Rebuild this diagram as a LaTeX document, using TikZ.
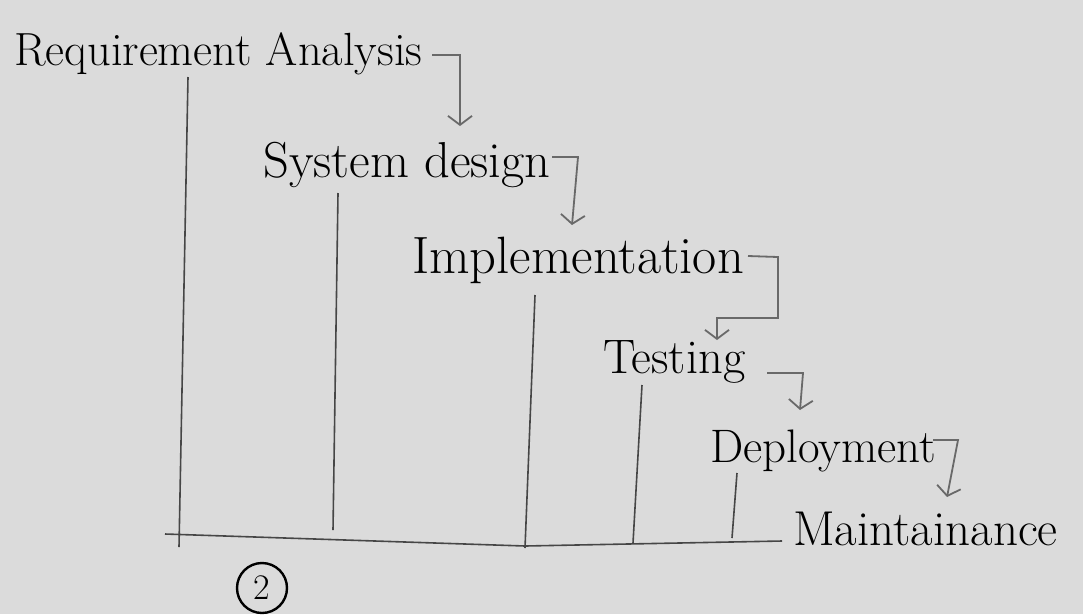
\documentclass[tikz,border=0pt]{standalone}
\usetikzlibrary{arrows.meta}
\definecolor{paper}{RGB}{219,219,219}
\definecolor{pencil}{RGB}{70,70,70}
\definecolor{pencillight}{RGB}{105,105,105}
\begin{document}
\begin{tikzpicture}[x=1pt,y=-1pt,
  phase/.style={anchor=base west, inner sep=0pt, text=black, font=\fontsize{#1}{#1}\selectfont},
  phase/.default=48,
  conn/.style={draw=pencillight, line width=1.8pt, -{Straight Barb[length=9pt,width=24pt,line width=1.8pt]}},
  stem/.style={draw=pencil, line width=1.6pt},
  axis/.style={draw=pencil, line width=1.6pt}]
\path[fill=paper] (0,0) rectangle (1083,614);
\useasboundingbox (0,0) rectangle (1083,614);

% phases
\node[phase=46.5] (req) at (14,65) {Requirement Analysis};
\node[phase=50.5] (sys) at (263,177) {System design};
\node[phase=52.5] (imp) at (412,273) {Implementation};
\node[phase=48.5] (tst) at (603,373) {Testing};
\node[phase=47] (dep) at (710,462) {Deployment};
\node[phase=49] (mnt) at (793,545) {Maintainance};

% connector points
\coordinate (a1s) at (432,55);
\coordinate (a1e) at (460,126);
\coordinate (a2s) at (552,157);
\coordinate (a2e) at (572,225);
\coordinate (a3s) at (748,256);
\coordinate (a3e) at (717,340);
\coordinate (a4s) at (767,373);
\coordinate (a4e) at (800,410);
\coordinate (a5s) at (933,440);
\coordinate (a5e) at (947,497);

\draw[conn] (a1s) -- (460,55) -- (a1e);
\draw[conn] (a2s) -- (578,157) -- (a2e);
\draw[conn] (a3s) -- (778,257) -- (778,318) -- (717,318) -- (a3e);
\draw[conn] (a4s) -- (803,373) -- (a4e);
\draw[conn] (a5s) -- (958,440) -- (a5e);

% timeline
\coordinate (ax0) at (165,534);
\coordinate (axm) at (525,546);
\coordinate (ax1) at (782,541);
\draw[axis] (ax0) -- (axm) -- (ax1);

% stems
\coordinate (s1t) at (188,77);   \coordinate (s1b) at (179,547);
\coordinate (s2t) at (338,193);  \coordinate (s2b) at (333,530);
\coordinate (s3t) at (535,295);  \coordinate (s3b) at (525,548);
\coordinate (s4t) at (642,385);  \coordinate (s4b) at (633,543);
\coordinate (s5t) at (737,473);  \coordinate (s5b) at (732,538);
\draw[stem] (s1t) -- (s1b);
\draw[stem] (s2t) -- (s2b);
\draw[stem] (s3t) -- (s3b);
\draw[stem] (s4t) -- (s4b);
\draw[stem] (s5t) -- (s5b);

% page number
\node[draw=black, line width=2.4pt, circle, minimum size=50pt, inner sep=0pt,
      font=\fontsize{36}{38}\selectfont] (num) at (262,588) {2};
\end{tikzpicture}
\end{document}
